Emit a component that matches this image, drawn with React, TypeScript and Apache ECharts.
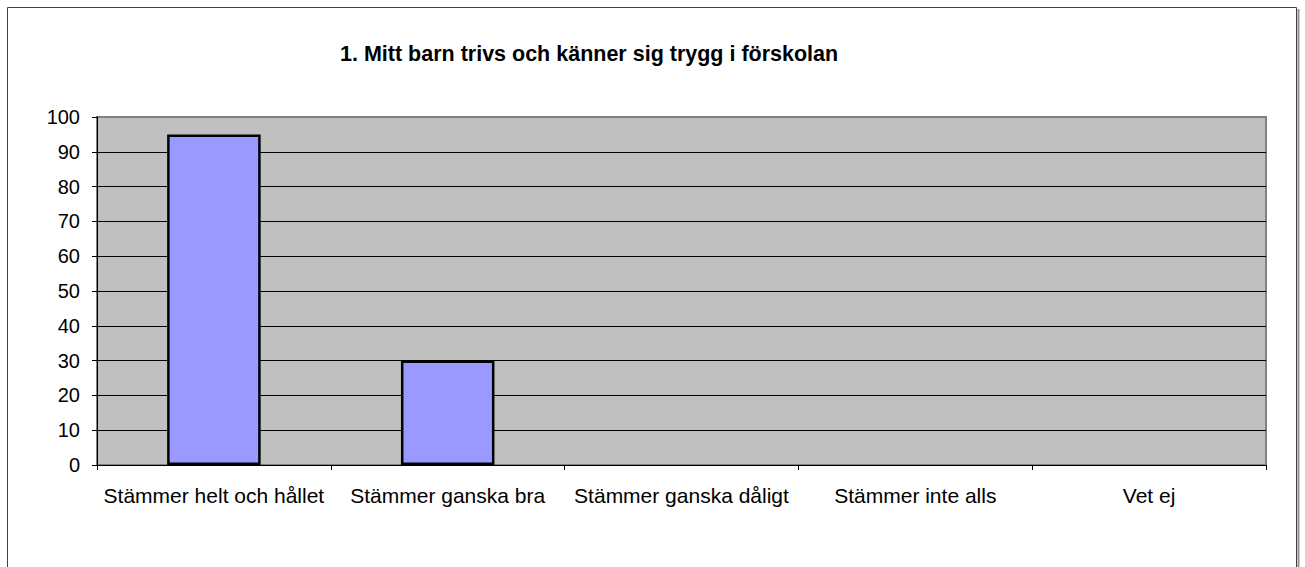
import React, { useEffect, useRef } from "react";
import * as echarts from "echarts";

const categories = [
  "Stämmer helt och hållet",
  "Stämmer ganska bra",
  "Stämmer ganska dåligt",
  "Stämmer inte alls",
  "Vet ej",
];
const values = [95, 30, 0, 0, 0];
const titleText = "1. Mitt barn trivs och känner sig trygg i förskolan";

export default function App() {
  const ref = useRef<HTMLDivElement>(null);
  useEffect(() => {
    if (!ref.current) return;
    const chart = echarts.init(ref.current, null, { renderer: "svg" });
    chart.setOption({
      animation: false,
      backgroundColor: "#ffffff",
      title: {
        text: titleText,
        left: 335,
        top: 38,
        textStyle: {
          fontFamily: "Liberation Sans, Arial, sans-serif",
          fontSize: 21.5,
          fontWeight: "bold",
          color: "#000",
        },
      },
      graphic: [
        {
          type: "rect",
          shape: { x: 7.5, y: 7.5, width: 1289, height: 570 },
          style: { fill: "none", stroke: "#404040", lineWidth: 1 },
          z: 100,
        },
        {
          type: "line",
          shape: { x1: 1298.5, y1: 9, x2: 1298.5, y2: 567 },
          style: { stroke: "#909090", lineWidth: 2 },
          z: 100,
        },
      ],
      grid: {
        left: 97,
        right: 39,
        top: 117,
        bottom: 102,
        show: true,
        backgroundColor: "#c0c0c0",
        borderColor: "#808080",
        borderWidth: 2,
      },
      xAxis: {
        type: "category",
        data: categories,
        axisLine: { show: true, lineStyle: { color: "#000", width: 1 } },
        axisTick: { show: true, alignWithLabel: false, interval: 0, length: 5, lineStyle: { color: "#000" } },
        axisLabel: {
          interval: 0,
          margin: 20,
          fontFamily: "Liberation Sans, Arial, sans-serif",
          fontSize: 21,
          color: "#000",
        },
      },
      yAxis: {
        type: "value",
        min: 0,
        max: 100,
        interval: 10,
        axisLine: { show: true, lineStyle: { color: "#000", width: 1 } },
        axisTick: { show: true, length: 5, lineStyle: { color: "#000" } },
        axisLabel: {
          margin: 17,
          fontFamily: "Liberation Sans, Arial, sans-serif",
          fontSize: 20,
          color: "#000",
        },
        splitLine: { show: true, showMaxLine: false, lineStyle: { color: "#000", width: 1 } },
      },
      series: [
        {
          type: "bar",
          data: values.map((v) => (v === 0 ? null : v)),
          barWidth: "40%",
          itemStyle: { color: "#9999ff", borderColor: "#000", borderWidth: 2.5 },
        },
      ],
    });
    return () => chart.dispose();
  }, []);
  return (
    <div
      ref={ref}
      style={{ position: "fixed", left: 0, top: 0, width: 1305, height: 567 }}
    />
  );
}
